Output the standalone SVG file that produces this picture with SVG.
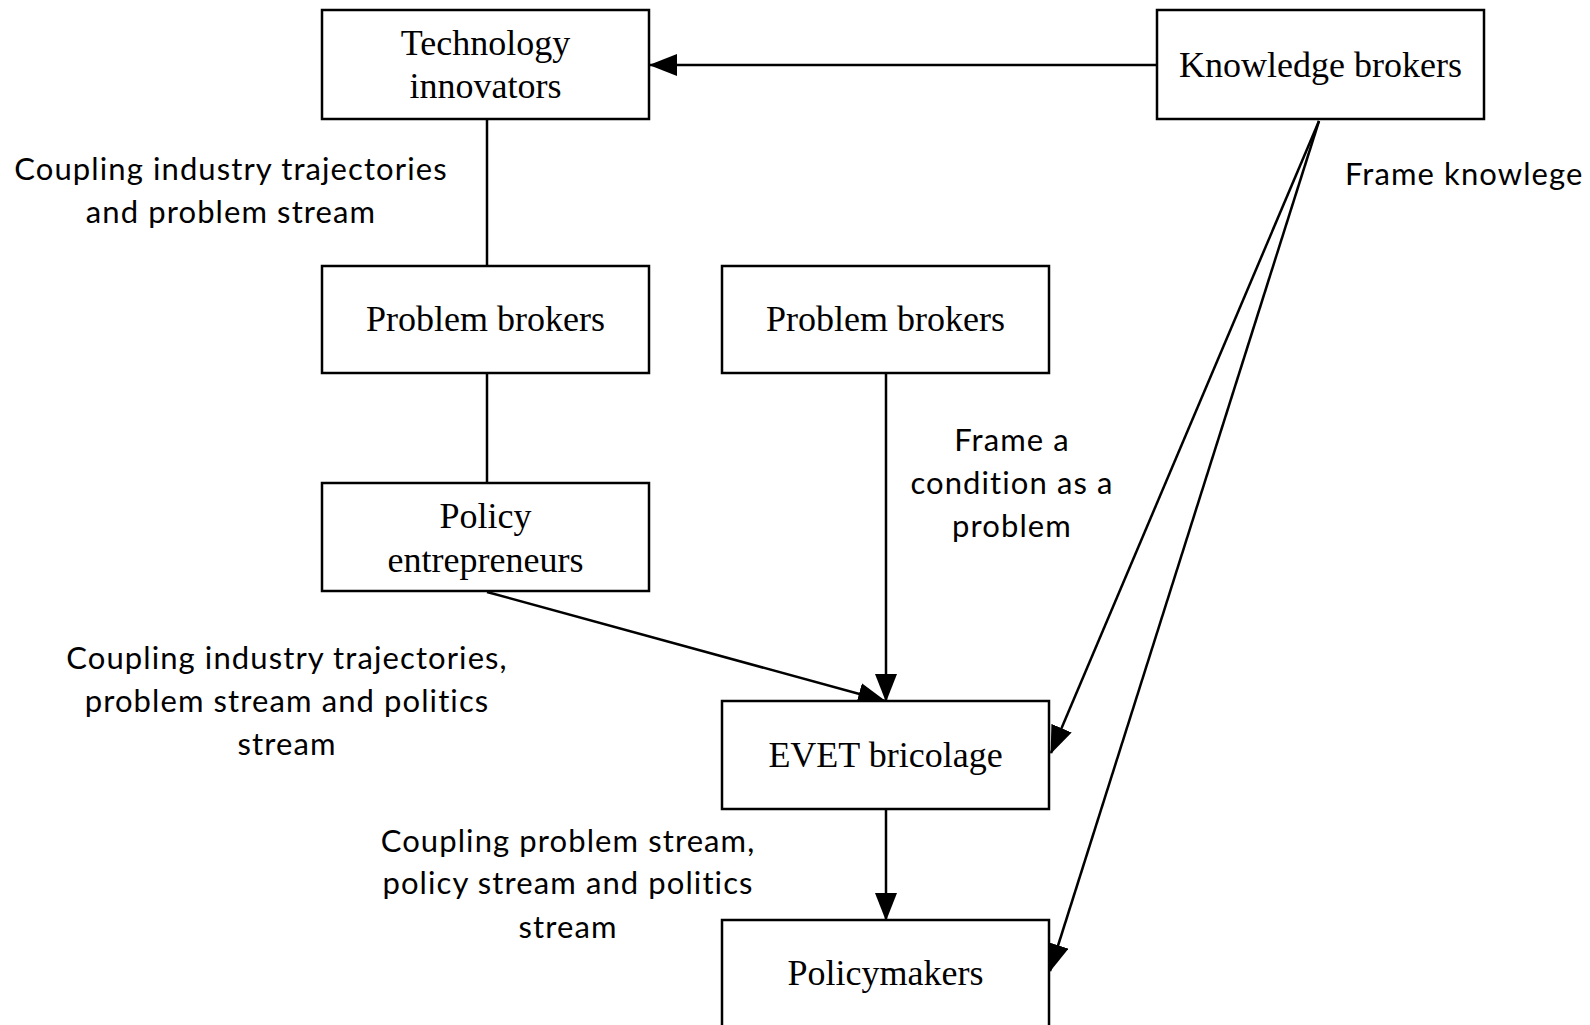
<svg xmlns="http://www.w3.org/2000/svg" width="1590" height="1025" viewBox="0 0 1590 1025">
<defs>
<style>
.box{fill:#fff;stroke:#000;stroke-width:2.5}
.nt{font-family:"Liberation Serif","Times New Roman",serif;font-size:36px;text-anchor:middle;fill:#000}
.lb{font-family:Lato,"Open Sans",sans-serif;font-size:31px;letter-spacing:1.1px;text-anchor:middle;fill:#000}
.ln{stroke:#000;stroke-width:2.5;fill:none}
</style>
<marker id="ah" markerWidth="28" markerHeight="22" refX="27" refY="11" orient="auto" markerUnits="userSpaceOnUse">
<path d="M0,0 L28,11 L0,22 Z" fill="#000"/>
</marker>
</defs>
<rect width="1590" height="1025" fill="#fff"/>
<g id="connectors">
<line class="ln" x1="1157" y1="65" x2="650" y2="65" marker-end="url(#ah)"/>
<line class="ln" x1="487" y1="119" x2="487" y2="266"/>
<line class="ln" x1="487" y1="373" x2="487" y2="483"/>
<line class="ln" x1="487" y1="592" x2="885" y2="701" marker-end="url(#ah)"/>
<line class="ln" x1="886" y1="373" x2="886" y2="701" marker-end="url(#ah)"/>
<line class="ln" x1="886" y1="809" x2="886" y2="920" marker-end="url(#ah)"/>
<line class="ln" x1="1319" y1="121" x2="1051" y2="753" marker-end="url(#ah)"/>
<line class="ln" x1="1319" y1="121" x2="1050" y2="971" marker-end="url(#ah)"/>
</g>
<g id="tech-innovators">
<rect class="box" x="322" y="10" width="327" height="109"/>
<text class="nt" x="485.5" y="55">Technology</text>
<text class="nt" x="485.5" y="98">innovators</text>
</g>
<g id="knowledge-brokers">
<rect class="box" x="1157" y="10" width="327" height="109"/>
<text class="nt" x="1320.5" y="77">Knowledge brokers</text>
</g>
<g id="problem-brokers-left">
<rect class="box" x="322" y="266" width="327" height="107"/>
<text class="nt" x="485.5" y="331">Problem brokers</text>
</g>
<g id="problem-brokers-right">
<rect class="box" x="722" y="266" width="327" height="107"/>
<text class="nt" x="885.5" y="331">Problem brokers</text>
</g>
<g id="policy-entrepreneurs">
<rect class="box" x="322" y="483" width="327" height="108"/>
<text class="nt" x="485.5" y="528">Policy</text>
<text class="nt" x="485.5" y="572">entrepreneurs</text>
</g>
<g id="evet-bricolage">
<rect class="box" x="722" y="701" width="327" height="108"/>
<text class="nt" x="885.5" y="767">EVET bricolage</text>
</g>
<g id="policymakers">
<rect class="box" x="722" y="920" width="327" height="115"/>
<text class="nt" x="885.5" y="985">Policymakers</text>
</g>
<g id="labels">
<text class="lb" x="231" y="180">Coupling industry trajectories</text>
<text class="lb" x="231" y="223">and problem stream</text>
<text class="lb" x="1345" y="185" style="text-anchor:start">Frame knowlege</text>
<text class="lb" x="1012" y="451">Frame a</text>
<text class="lb" x="1012" y="494">condition as a</text>
<text class="lb" x="1012" y="537">problem</text>
<text class="lb" x="287" y="669">Coupling industry trajectories,</text>
<text class="lb" x="287" y="712">problem stream and politics</text>
<text class="lb" x="287" y="755">stream</text>
<text class="lb" x="568" y="852">Coupling problem stream,</text>
<text class="lb" x="568" y="894">policy stream and politics</text>
<text class="lb" x="568" y="938">stream</text>
</g>
</svg>
